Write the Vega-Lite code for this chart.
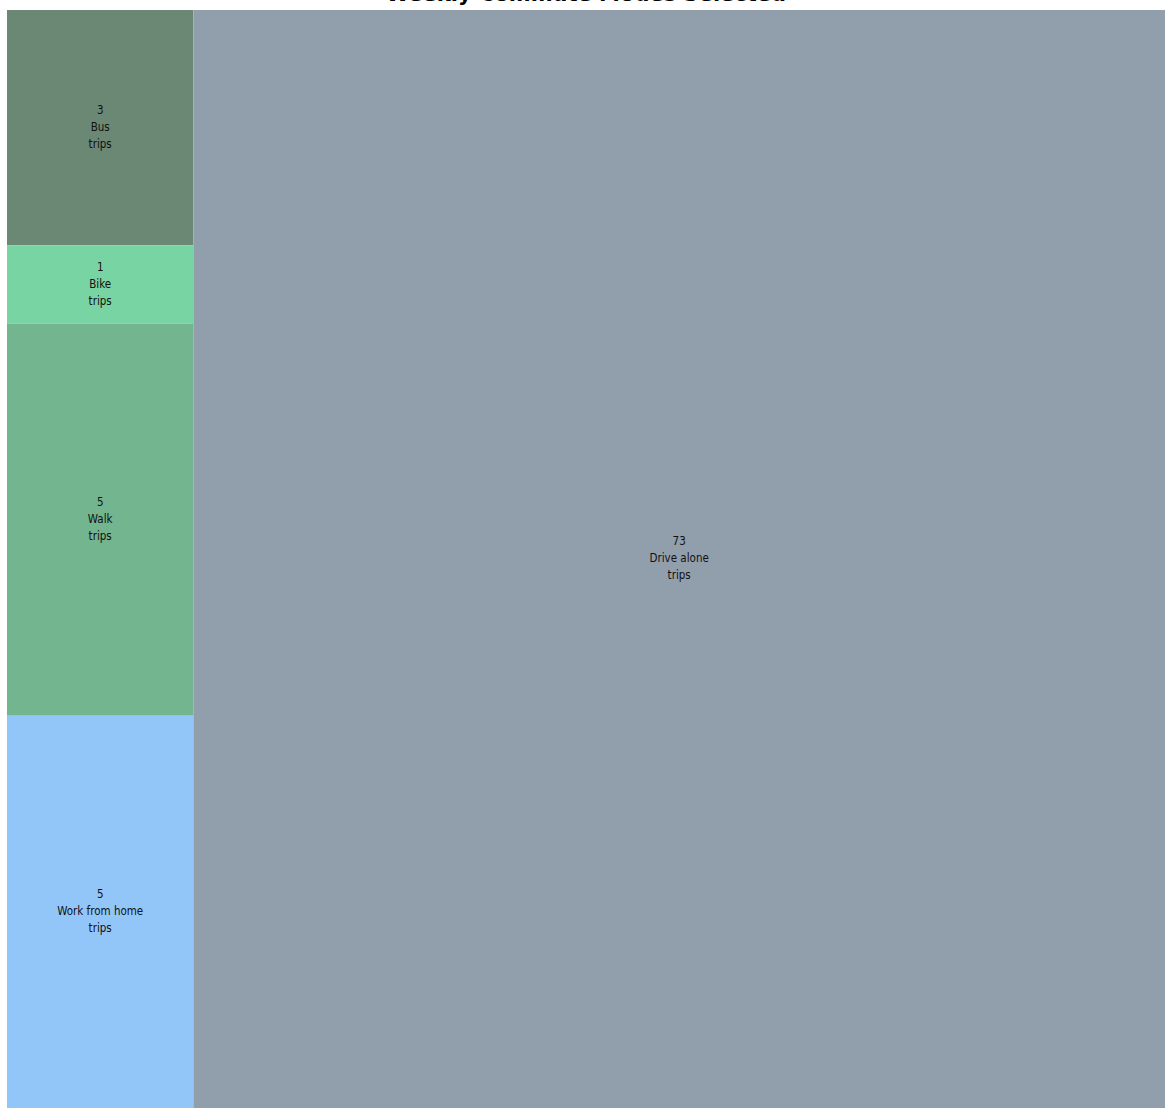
{
  "$schema": "https://vega.github.io/schema/vega-lite/v6.json",
  "autosize": {"type": "none"},
  "padding": {"left": 7, "top": 10, "right": 0, "bottom": 0},
  "width": 1158,
  "height": 1098,
  "background": "white",
  "title": {
    "text": "Weekly Commute Modes Selected",
    "font": "DejaVu Sans",
    "fontSize": 21,
    "fontWeight": "bold",
    "color": "#000000",
    "anchor": "middle",
    "offset": 5
  },
  "config": {"view": {"stroke": null}},
  "data": {
    "values": [
      {"mode": "Bus", "trips": 3, "group": 1, "order": 1},
      {"mode": "Bike", "trips": 1, "group": 1, "order": 2},
      {"mode": "Walk", "trips": 5, "group": 1, "order": 3},
      {"mode": "Work from home", "trips": 5, "group": 1, "order": 4},
      {"mode": "Drive alone", "trips": 73, "group": 2, "order": 5}
    ]
  },
  "transform": [
    {"stack": "trips", "groupby": [], "sort": [{"field": "order"}], "offset": "normalize", "as": ["xs0", "xs1"]},
    {"joinaggregate": [{"op": "min", "field": "xs0", "as": "x0"}, {"op": "max", "field": "xs1", "as": "x1"}], "groupby": ["group"]},
    {"stack": "trips", "groupby": ["group"], "sort": [{"field": "order"}], "offset": "normalize", "as": ["y0", "y1"]},
    {"calculate": "(datum.x0 + datum.x1) / 2", "as": "xm"},
    {"calculate": "(datum.y0 + datum.y1) / 2", "as": "ym"},
    {"calculate": "datum.trips + '\\n' + datum.mode + '\\ntrips'", "as": "label"}
  ],
  "layer": [
    {
      "mark": {"type": "rect", "stroke": null},
      "encoding": {
        "x": {"field": "x0", "type": "quantitative", "scale": {"domain": [0, 1], "nice": false, "zero": false}, "axis": null},
        "x2": {"field": "x1"},
        "y": {"field": "y0", "type": "quantitative", "scale": {"domain": [0, 1], "reverse": true, "nice": false, "zero": false}, "axis": null},
        "y2": {"field": "y1"},
        "color": {
          "field": "mode",
          "type": "nominal",
          "scale": {
            "domain": ["Bus", "Bike", "Walk", "Work from home", "Drive alone"],
            "range": ["#6a8873", "#78d4a2", "#72b58f", "#93c6f8", "#919fac"]
          },
          "legend": null
        }
      }
    },
    {
      "mark": {"type": "text", "font": "DejaVu Sans Condensed", "fontSize": 11.5, "lineBreak": "\n", "lineHeight": 17, "align": "center", "baseline": "middle", "dy": -17, "color": "#111111"},
      "encoding": {
        "x": {"field": "xm", "type": "quantitative"},
        "y": {"field": "ym", "type": "quantitative"},
        "text": {"field": "label", "type": "nominal"}
      }
    }
  ]
}
